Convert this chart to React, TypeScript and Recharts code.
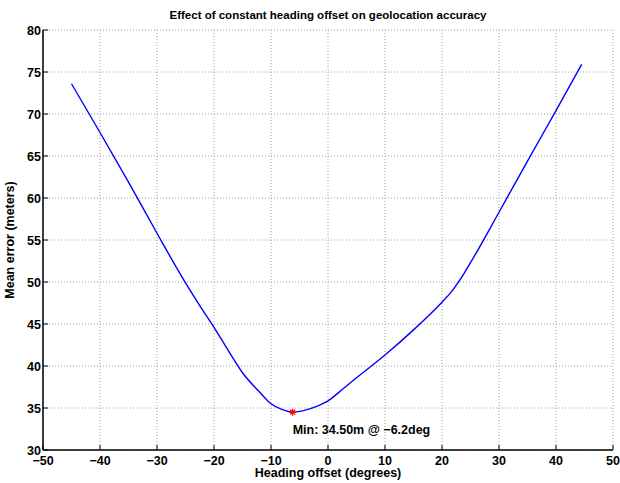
import { ComposedChart, Line, Scatter, XAxis, YAxis, CartesianGrid } from "recharts";

// heading offset (deg) vs mean geolocation error (m)
const offsets = [-45, -40, -35, -30, -25, -22.5, -20, -17, -15, -12, -10, -8, -6.2, -4, -2, 0, 2.5, 5, 10, 15, 20, 21.5, 23, 25, 30, 35, 40, 44.5];
const errors = [73.6, 67.8, 61.9, 55.8, 49.9, 47.2, 44.6, 41.3, 39.2, 36.9, 35.5, 34.8, 34.5, 34.75, 35.2, 35.85, 37.2, 38.6, 41.3, 44.3, 47.6, 48.7, 50.1, 52.3, 58.3, 64.4, 70.4, 75.9];
const minPoint = [{ x: -6.2, y: 34.5 }];
const minLabel = "Min: 34.50m @ \u22126.2deg";

const xTicks = [-50, -40, -30, -20, -10, 0, 10, 20, 30, 40, 50];
const yTicks = [30, 35, 40, 45, 50, 55, 60, 65, 70, 75, 80];

const curve = offsets.map((x, i) => ({ x, y: errors[i] }));

const FONT = "'Liberation Sans', Arial, Helvetica, sans-serif";
const fmt = (v: number) => (v < 0 ? "\u2212" + Math.abs(v) : String(v));

const BottomTick = (props: any) => {
  const { x, y, payload } = props;
  return (
    <g>
      <line x1={x} y1={y} x2={x} y2={y - 5} stroke="#000" />
      <text x={x} y={y + 15} textAnchor="middle" fontSize={12.5} fontWeight="bold" fontFamily={FONT} fill="#000">
        {fmt(payload.value)}
      </text>
    </g>
  );
};

const TopTick = (props: any) => {
  const { x, y } = props;
  return <line x1={x} y1={y} x2={x} y2={y + 5} stroke="#000" />;
};

const LeftTick = (props: any) => {
  const { x, y, payload } = props;
  return (
    <g>
      <line x1={x} y1={y} x2={x + 5} y2={y} stroke="#000" />
      <text x={x - 2} y={y + 4.5} textAnchor="end" fontSize={12.5} fontWeight="bold" fontFamily={FONT} fill="#000">
        {fmt(payload.value)}
      </text>
    </g>
  );
};

const RightTick = (props: any) => {
  const { x, y } = props;
  return <line x1={x} y1={y} x2={x - 5} y2={y} stroke="#000" />;
};

const MinMarker = (props: any) => {
  const { cx, cy } = props;
  const r = 3.5;
  const d = r * 0.707;
  return (
    <g>
      <g stroke="#ff0000" strokeWidth={1.2}>
        <line x1={cx - r} y1={cy} x2={cx + r} y2={cy} />
        <line x1={cx} y1={cy - r} x2={cx} y2={cy + r} />
        <line x1={cx - d} y1={cy - d} x2={cx + d} y2={cy + d} />
        <line x1={cx - d} y1={cy + d} x2={cx + d} y2={cy - d} />
      </g>
      <text x={cx} y={cy + 22} fontSize={12.5} fontWeight="bold" fontFamily={FONT} fill="#000">
        {minLabel}
      </text>
    </g>
  );
};

export default function App() {
  return (
    <div style={{ position: "absolute", left: 0, top: 0, width: 620, height: 483, background: "#fff" }}>
      <ComposedChart width={620} height={483} margin={{ top: 30, right: 7, left: 0, bottom: 0 }}>
        <CartesianGrid xAxisId="b" yAxisId="l" stroke="#a0a0a0" strokeDasharray="1 2" verticalValues={xTicks} horizontalValues={yTicks} />
        <XAxis xAxisId="b" type="number" dataKey="x" domain={[-50, 50]} ticks={xTicks} height={33}
          axisLine={{ stroke: "#000", strokeWidth: 1.5 }} tickLine={false} tickSize={0} tickMargin={0} tick={BottomTick} interval={0} />
        <XAxis xAxisId="t" orientation="top" type="number" dataKey="x" domain={[-50, 50]} ticks={xTicks} height={0}
          axisLine={{ stroke: "#000", strokeWidth: 1.5 }} tickLine={false} tickSize={0} tickMargin={0} tick={TopTick} interval={0} />
        <YAxis yAxisId="l" type="number" dataKey="y" domain={[30, 80]} ticks={yTicks} width={43}
          axisLine={{ stroke: "#000", strokeWidth: 1.5 }} tickLine={false} tickSize={0} tickMargin={0} tick={LeftTick} interval={0} />
        <YAxis yAxisId="r" orientation="right" type="number" dataKey="y" domain={[30, 80]} ticks={yTicks} width={0}
          axisLine={{ stroke: "#000", strokeWidth: 1.5 }} tickLine={false} tickSize={0} tickMargin={0} tick={RightTick} interval={0} />
        <Line xAxisId="b" yAxisId="l" data={curve} dataKey="y" type="monotone" stroke="#0000ff" strokeWidth={1.4} dot={false} isAnimationActive={false} />
        <Scatter xAxisId="b" yAxisId="l" data={minPoint} dataKey="y" shape={MinMarker} isAnimationActive={false} />
        <text x={328} y={19} textAnchor="middle" fontSize={11.5} fontWeight="bold" fontFamily={FONT} fill="#000">
          Effect of constant heading offset on geolocation accuracy
        </text>
        <text x={328} y={477} textAnchor="middle" fontSize={12.5} fontWeight="bold" fontFamily={FONT} fill="#000">
          Heading offset (degrees)
        </text>
        <text x={14} y={240} transform="rotate(-90 14 240)" textAnchor="middle" fontSize={12.5} fontWeight="bold" fontFamily={FONT} fill="#000">
          Mean error (meters)
        </text>
      </ComposedChart>
    </div>
  );
}
